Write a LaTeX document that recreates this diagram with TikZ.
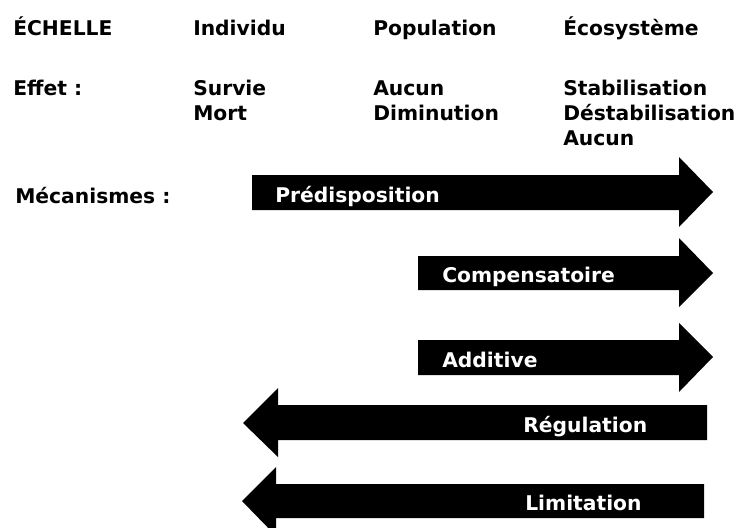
\documentclass[tikz,border=0pt]{standalone}
\usepackage{fontspec}
\setmainfont{DejaVu Sans}
\begin{document}
\begin{tikzpicture}[x=0.75pt,y=-0.75pt,
  lbl/.style={anchor=base west,inner sep=0pt,font=\fontsize{15.2}{18}\selectfont\bfseries},
  wlbl/.style={lbl,text=white},
  bigarrow/.style={fill=black,draw=none}]
\useasboundingbox (0,0) rectangle (739,528);
\clip (0,0) rectangle (739,528);
% header rows
\node[lbl] (echelle) at (13,36) {ÉCHELLE};
\node[lbl] (indiv) at (193,36) {Individu};
\node[lbl] (popu) at (373,36) {Population};
\node[lbl] (ecos) at (563,36) {Écosystème};
\node[lbl] (effet) at (13,96) {Effet :};
\node[lbl] (survie) at (193,96) {Survie};
\node[lbl] (mort) at (193,121) {Mort};
\node[lbl] (aucun1) at (373,96) {Aucun};
\node[lbl] (dimin) at (373,121) {Diminution};
\node[lbl] (stab) at (563,96) {Stabilisation};
\node[lbl] (destab) at (563,121) {Déstabilisation};
\node[lbl] (aucun2) at (563,145) {Aucun};
\node[lbl] (meca) at (15,203) {Mécanismes :};
% arrows
\fill[bigarrow] (252,175) -- (679,175) -- (679,157) -- (713,192) -- (679,227) -- (679,210) -- (252,210) -- cycle;
\fill[bigarrow] (418,256) -- (679,256) -- (679,238) -- (713,273) -- (679,307) -- (679,290) -- (418,290) -- cycle;
\fill[bigarrow] (418,340) -- (679,340) -- (679,323) -- (713,357) -- (679,392) -- (679,375) -- (418,375) -- cycle;
\fill[bigarrow] (707,405) -- (278,405) -- (278,388) -- (243,423) -- (278,457) -- (278,440) -- (707,440) -- cycle;
\fill[bigarrow] (704,484) -- (276,484) -- (276,467) -- (242,501) -- (276,536) -- (276,518) -- (704,518) -- cycle;
% arrow labels
\node[wlbl] (pred) at (275,202) {Prédisposition};
\node[wlbl] (comp) at (442,282) {Compensatoire};
\node[wlbl] (addi) at (442,367) {Additive};
\node[wlbl] (regu) at (523,432) {Régulation};
\node[wlbl] (limi) at (525,510) {Limitation};
\end{tikzpicture}
\end{document}
